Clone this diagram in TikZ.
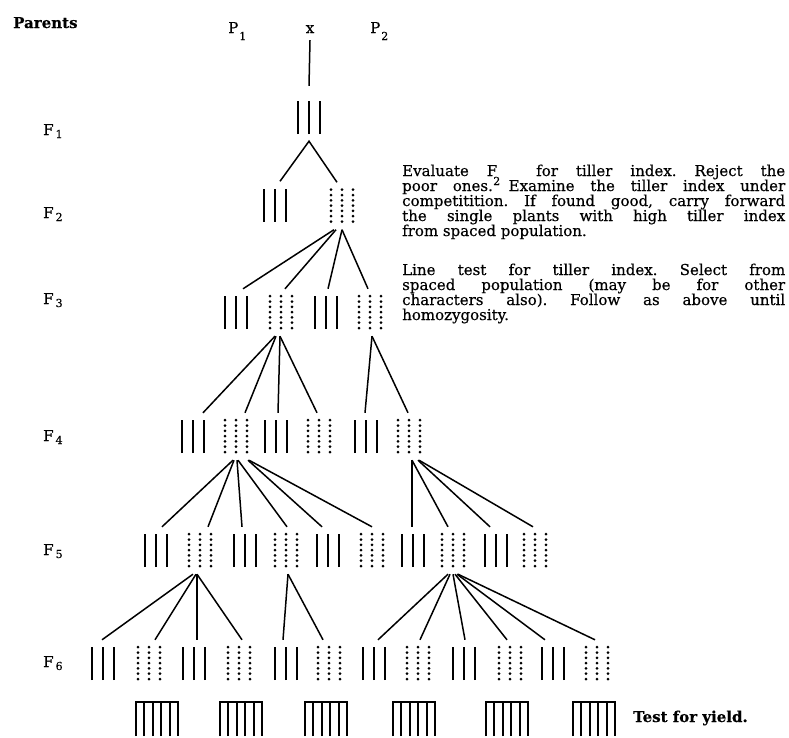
\documentclass[tikz,border=0pt]{standalone}
\usepackage{fontspec}
\setmainfont{DejaVu Serif}[FakeBold=0.4]
\usetikzlibrary{calc}

\tikzset{
  lab/.style={anchor=base west, inner sep=0pt, font=\fontsize{15}{15}\selectfont},
  plant/.style={inner sep=0pt, minimum width=26pt, minimum height=47pt},
  solidplant/.style={plant, path picture={
      \foreach \dx in {-11,0,11}
        \draw[line width=2.6pt] ([xshift=\dx pt, yshift=-16.5pt]path picture bounding box.center) -- ++(0pt,33pt);}},
  dotplant/.style={plant, path picture={
      \foreach \dx in {-11,0,11}
        \draw[line width=3pt, line cap=round, dash pattern=on 0pt off 5.3pt]
          ([xshift=\dx pt, yshift=-15.5pt]path picture bounding box.center) -- ++(0pt,32pt);}},
  conn/.style={line width=1.5pt},
  yieldbox/.style={inner sep=0pt, minimum width=42pt, minimum height=34pt},
  boxline/.style={line width=1.6pt},
  note/.style={anchor=base west, inner sep=0pt}
}

\newcommand{\sub}[2]{\raisebox{#1}{\fontsize{11}{11}\selectfont #2}}

\begin{document}
\frenchspacing
\begin{tikzpicture}[x=1pt, y=-1pt]
\useasboundingbox (0,0) rectangle (789,737);

% headings
\node[lab] (parents) at (13,28) {\bfseries Parents};
\node[lab] (p1) at (228,33) {P\kern1pt\sub{-7pt}{1}};
\node[lab, anchor=base] (cross) at (310,33) {x};
\node[lab] (p2) at (370,33) {P\kern1pt\sub{-7pt}{2}};

% generation labels
\node[lab] (g1) at (43,135) {F\kern2pt\sub{-3pt}{1}};
\node[lab] (g2) at (43,218) {F\kern2pt\sub{-3pt}{2}};
\node[lab] (g3) at (43,304) {F\kern2pt\sub{-3pt}{3}};
\node[lab] (g4) at (43,441) {F\kern2pt\sub{-3pt}{4}};
\node[lab] (g5) at (43,555) {F\kern2pt\sub{-3pt}{5}};
\node[lab] (g6) at (43,667) {F\kern2pt\sub{-3pt}{6}};

% F1
\node[solidplant] (f1) at (309,117.5) {};
% F2
\node[solidplant] (f2a) at (275,205) {};
\node[dotplant]   (f2b) at (342,206) {};
% F3
\node[solidplant] (f3a) at (236,312.5) {};
\node[dotplant]   (f3b) at (281,312.5) {};
\node[solidplant] (f3c) at (326,312.5) {};
\node[dotplant]   (f3d) at (370,312.5) {};
% F4
\node[solidplant] (f4a) at (193,436.5) {};
\node[dotplant]   (f4b) at (236,436.5) {};
\node[solidplant] (f4c) at (276,436.5) {};
\node[dotplant]   (f4d) at (319,436.5) {};
\node[solidplant] (f4e) at (366,436.5) {};
\node[dotplant]   (f4f) at (409,436.5) {};
% F5
\node[solidplant] (f5a) at (156,550.5) {};
\node[dotplant]   (f5b) at (200,550.5) {};
\node[solidplant] (f5c) at (245,550.5) {};
\node[dotplant]   (f5d) at (286,550.5) {};
\node[solidplant] (f5e) at (328,550.5) {};
\node[dotplant]   (f5f) at (372,550.5) {};
\node[solidplant] (f5g) at (413,550.5) {};
\node[dotplant]   (f5h) at (453,550.5) {};
\node[solidplant] (f5i) at (496,550.5) {};
\node[dotplant]   (f5j) at (535,550.5) {};
% F6
\node[solidplant] (f6a) at (103,663.5) {};
\node[dotplant]   (f6b) at (149,663.5) {};
\node[solidplant] (f6c) at (194,663.5) {};
\node[dotplant]   (f6d) at (239,663.5) {};
\node[solidplant] (f6e) at (286,663.5) {};
\node[dotplant]   (f6f) at (329,663.5) {};
\node[solidplant] (f6g) at (374,663.5) {};
\node[dotplant]   (f6h) at (418,663.5) {};
\node[solidplant] (f6i) at (464,663.5) {};
\node[dotplant]   (f6j) at (510,663.5) {};
\node[solidplant] (f6k) at (553,663.5) {};
\node[dotplant]   (f6l) at (597,663.5) {};

% yield plots
\node[yieldbox] (y1) at (157,719) {};
\node[yieldbox] (y2) at (241,719) {};
\node[yieldbox] (y3) at (326,719) {};
\node[yieldbox] (y4) at (414,719) {};
\node[yieldbox] (y5) at (507,719) {};
\node[yieldbox] (y6) at (594,719) {};
\foreach \b in {y1,y2,y3,y4,y5,y6} {
  \draw[boxline] (\b.south west) |- (\b.north east) -- (\b.south east);
  \foreach \k in {1,2,3,4}
    \draw[boxline] ($(\b.south west)!\k/5!(\b.south east)$) -- ($(\b.north west)!\k/5!(\b.north east)$);
}

% cross to F1
\draw[conn] ([yshift=-7pt]cross.south) -- ([yshift=8pt]f1.north);
% F1 to F2
\draw[conn] ([xshift=5pt]f2a.north) -- (f1.south) -- ([xshift=-5pt]f2b.north);
% F2 to F3
\draw[conn] ([xshift=-8pt]f2b.south) -- ([xshift=7pt]f3a.north);
\draw[conn] ([xshift=-6pt]f2b.south) -- ([xshift=4pt]f3b.north);
\draw[conn] ([xshift=0pt]f2b.south) -- ([xshift=2pt]f3c.north);
\draw[conn] ([xshift=0pt]f2b.south) -- ([xshift=-2pt]f3d.north);
% F3 to F4
\draw[conn] ([xshift=-6pt]f3b.south) -- ([xshift=10pt]f4a.north);
\draw[conn] ([xshift=-5pt]f3b.south) -- ([xshift=9pt]f4b.north);
\draw[conn] ([xshift=-1pt]f3b.south) -- ([xshift=2pt]f4c.north);
\draw[conn] ([xshift=-1pt]f3b.south) -- ([xshift=-2pt]f4d.north);
\draw[conn] ([xshift=2pt]f3d.south) -- ([xshift=-1pt]f4e.north);
\draw[conn] ([xshift=2pt]f3d.south) -- ([xshift=-1pt]f4f.north);
% F4 to F5
\draw[conn] ([xshift=-3pt]f4b.south) -- ([xshift=6pt]f5a.north);
\draw[conn] ([xshift=-2pt]f4b.south) -- ([xshift=8pt]f5b.north);
\draw[conn] ([xshift=1pt]f4b.south) -- ([xshift=-3pt]f5c.north);
\draw[conn] ([xshift=2pt]f4b.south) -- ([xshift=1pt]f5d.north);
\draw[conn] ([xshift=12pt]f4b.south) -- ([xshift=-6pt]f5e.north);
\draw[conn] ([xshift=13pt]f4b.south) -- ([xshift=0pt]f5f.north);
\draw[conn] ([xshift=3pt]f4f.south) -- ([xshift=-1pt]f5g.north);
\draw[conn] ([xshift=3pt]f4f.south) -- ([xshift=-5pt]f5h.north);
\draw[conn] ([xshift=9pt]f4f.south) -- ([xshift=-6pt]f5i.north);
\draw[conn] ([xshift=10pt]f4f.south) -- ([xshift=-2pt]f5j.north);
% F5 to F6
\draw[conn] ([xshift=-7pt]f5b.south) -- ([xshift=-1pt]f6a.north);
\draw[conn] ([xshift=-4pt]f5b.south) -- ([xshift=6pt]f6b.north);
\draw[conn] ([xshift=-3pt]f5b.south) -- ([xshift=3pt]f6c.north);
\draw[conn] ([xshift=-3pt]f5b.south) -- ([xshift=3pt]f6d.north);
\draw[conn] ([xshift=2pt]f5d.south) -- ([xshift=-3pt]f6e.north);
\draw[conn] ([xshift=2pt]f5d.south) -- ([xshift=-6pt]f6f.north);
\draw[conn] ([xshift=-5pt]f5h.south) -- ([xshift=4pt]f6g.north);
\draw[conn] ([xshift=-3pt]f5h.south) -- ([xshift=2pt]f6h.north);
\draw[conn] ([xshift=0pt]f5h.south) -- ([xshift=1pt]f6i.north);
\draw[conn] ([xshift=2pt]f5h.south) -- ([xshift=-3pt]f6j.north);
\draw[conn] ([xshift=4pt]f5h.south) -- ([xshift=-8pt]f6k.north);
\draw[conn] ([xshift=5pt]f5h.south) -- ([xshift=-2pt]f6l.north);

% notes
\node[note] (evalnote) at (402,176) {\parbox[t]{383pt}{\fontsize{15}{15}\selectfont\lineskiplimit=-30pt
\makebox[383pt][s]{Evaluate F\kern-4pt\sub{-9pt}{2}\ \ for tiller index. Reject the}\par
\makebox[383pt][s]{poor ones. Examine the tiller index under}\par
\makebox[383pt][s]{competitition. If found good, carry forward}\par
\makebox[383pt][s]{the single plants with high tiller index}\par
from spaced population.}};

\node[note] (linenote) at (402,275) {\parbox[t]{383pt}{\fontsize{15}{15}\selectfont\lineskiplimit=-30pt
\makebox[383pt][s]{Line test for tiller index. Select from}\par
\makebox[383pt][s]{spaced population (may be for other}\par
\makebox[383pt][s]{characters also). Follow as above until}\par
homozygosity.}};

\node[lab] (yieldnote) at (633,722) {\bfseries Test for yield.};
\end{tikzpicture}
\end{document}
